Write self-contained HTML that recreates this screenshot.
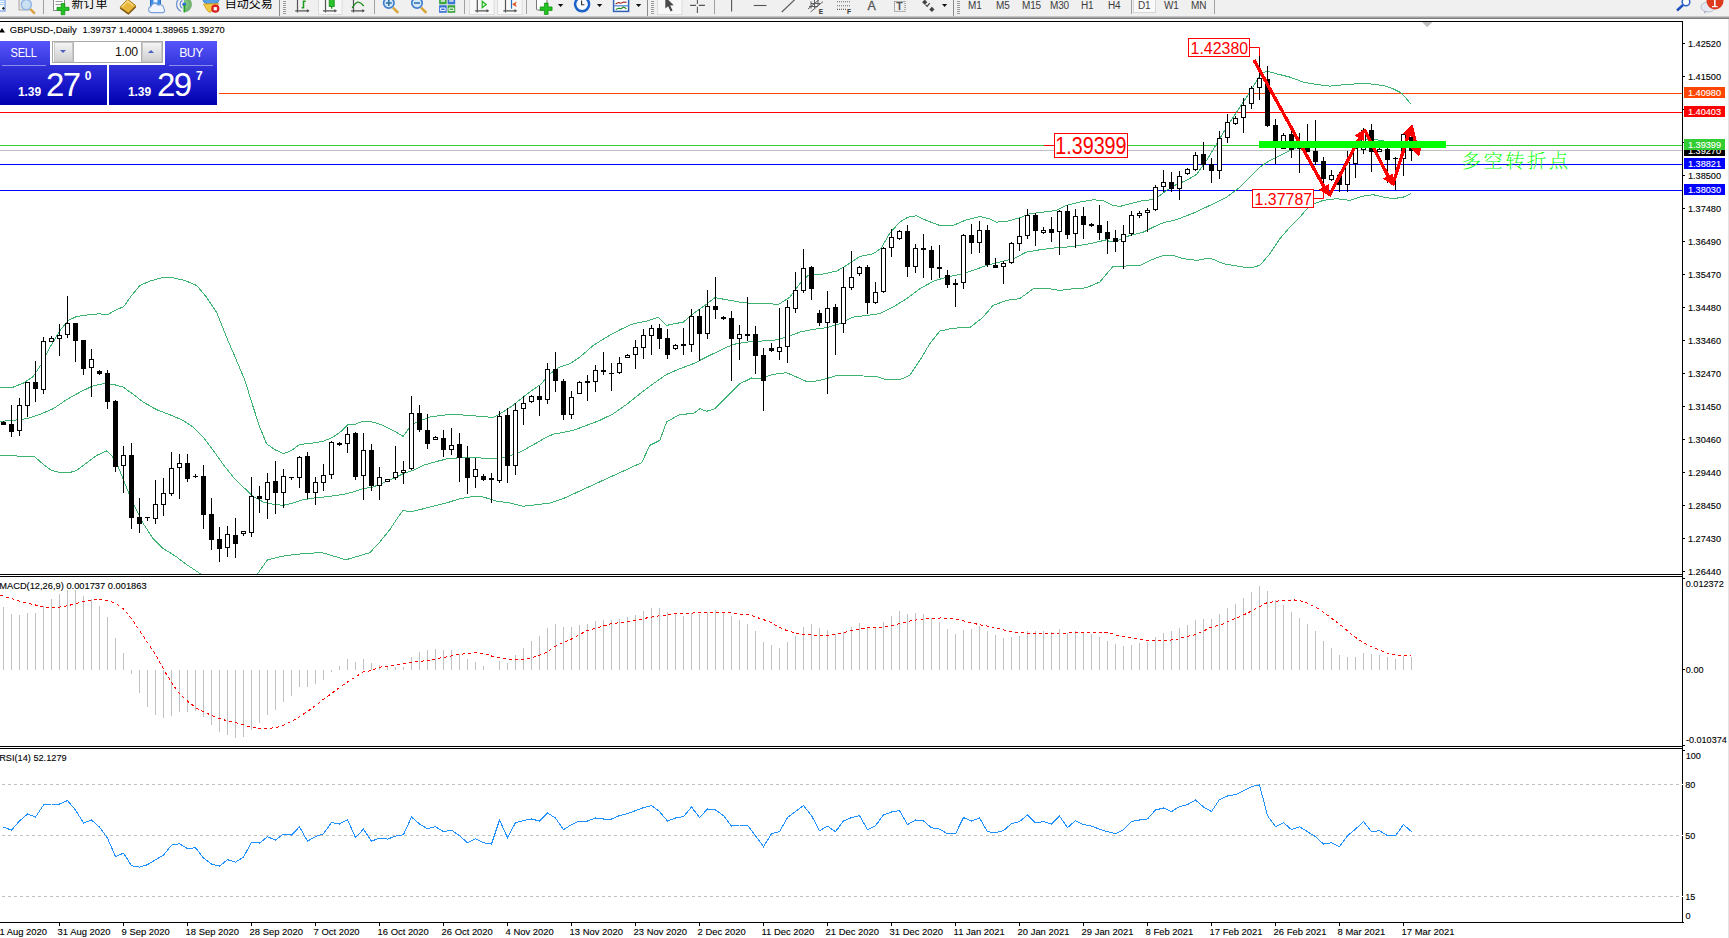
<!DOCTYPE html>
<html lang="zh"><head><meta charset="utf-8"><title>GBPUSD-,Daily</title>
<style>
html,body{margin:0;padding:0;background:#fff;}
body{width:1729px;height:938px;overflow:hidden;position:relative;font-family:"Liberation Sans", "Noto Sans CJK SC", sans-serif;}
#tb{position:absolute;left:0;top:0;width:1729px;height:16px;background:#f0f0f0;overflow:hidden;}
#tbline{position:absolute;left:0;top:16px;width:1729px;height:3px;background:linear-gradient(#d9d9d9,#a6a6a6 45%,#6e6e6e);}
.tf{position:absolute;top:0px;font-size:10px;line-height:12px;color:#3c3c3c;letter-spacing:-0.2px;}
.cn{position:absolute;top:-3px;font-size:12px;line-height:14px;color:#000;white-space:nowrap;}
.sep{position:absolute;top:0;width:1px;height:14px;background:#a0a0a0;}
.grip{position:absolute;top:1px;width:3px;height:13px;background:repeating-linear-gradient(#9a9a9a 0 1px,#f0f0f0 1px 2px);}
.pressed{position:absolute;top:-2px;height:15px;background:#fafafa;border:1px solid #d6d6d6;box-sizing:border-box;}
svg{position:absolute;left:0;top:0;}
svg text{font-family:"Liberation Sans", "Noto Sans CJK SC", sans-serif;}
.ax{font-size:9.9px;fill:#000;stroke:#000;stroke-width:0.12px;}
.tag{font-size:9.9px;fill:#fff;stroke:#fff;stroke-width:0.12px;}
.dt{font-size:9.9px;fill:#000;white-space:pre;stroke:#000;stroke-width:0.12px;}
#panel{position:absolute;left:0;top:41px;width:217px;height:64px;}
#panel div{position:absolute;box-sizing:border-box;}
.btn{color:#fff;font-size:12.3px;letter-spacing:-0.55px;text-align:center;line-height:24.6px;background:linear-gradient(#5555fa,#3434dc);}
.px{background:linear-gradient(#3232da,#1a1acb 45%,#0000ae);color:#fff;}
.sm{font-weight:bold;font-size:12px;line-height:12px;letter-spacing:-0.1px;}
.big{font-size:33px;line-height:33px;letter-spacing:-1.6px;}
.sup{font-weight:bold;font-size:12px;line-height:12px;}

</style></head><body>
<div id="tb">
<svg width="1729" height="16" viewBox="0 0 1729 16">
<rect x="-2" y="-3" width="7" height="14" fill="#fff" stroke="#5a8fe0"/><path d="M0 0.5h4M0 2.5h4M0 4.5h4" stroke="#9cc0f0" stroke-width=".8"/><rect x="2.3" y="7.3" width="2.2" height="2.2" fill="#223" transform="rotate(45 3.4 8.4)"/>
<rect x="19" y="-4" width="10" height="14" fill="#e4e4e4" stroke="#a8a8a8"/><circle cx="26.4" cy="4.6" r="5" fill="#c9dff5" fill-opacity=".9" stroke="#8fb6e6" stroke-width="1.4"/><line x1="30.3" y1="9" x2="34.8" y2="13.6" stroke="#d9a03a" stroke-width="2.5"/>
<rect x="53.5" y="-4" width="11" height="14.5" fill="#fff" stroke="#8a8a8a"/><path d="M55.5 1.5h7M55.5 4.5h7" stroke="#999"/><path d="M57 7.3h4.2v-3.8h3.6v3.8H69v3.2h-4.2v4.2h-3.6v-4.2H57z" fill="#22c322" stroke="#0c8a0c" stroke-width=".7"/>
<path d="M120.2 7.2 L127.6 -0.8 L135.8 5.8 L128.4 13 Z" fill="#e9b63c" stroke="#a8760f"/><path d="M120.2 8.2 L128.4 14 L135.8 6.8" fill="none" stroke="#7a5208" stroke-width="1.2"/><path d="M122 7 L127.6 1 L133 5.4" fill="none" stroke="#f7dc86" stroke-width="1.3"/>
<rect x="150.5" y="-4" width="10" height="10" fill="#3f8fe6" stroke="#2c6fbd"/><rect x="153.5" y="-2" width="4" height="4.5" fill="#e8f3ff"/>
<path d="M151.4 12.6 a3.1 3.1 0 0 1 -0.4 -6.1 a4 4 0 0 1 7.2 -1.2 a3.6 3.6 0 0 1 5.6 3.4 a2.2 2.2 0 0 1 -0.8 3.9 z" fill="#f2f6fc" stroke="#7a9fd8" stroke-width="1.1"/>
<path d="M184.2 -3.4 a7.8 7.8 0 0 1 0 15.6 z" fill="#4aa04a" fill-opacity=".75"/><path d="M184.2 -0.2 a4.6 4.6 0 0 1 0 9.2 z" fill="#7cc47c"/>
<path d="M181 -2.6 a7.6 7.6 0 0 0 0 13.8" fill="none" stroke="#6c8fd1" stroke-width="1.2"/><path d="M182.4 0.4 a4.4 4.4 0 0 0 0 7.8" fill="none" stroke="#6c8fd1" stroke-width="1.2"/><circle cx="184.2" cy="4.3" r="1.9" fill="#2d6fd0"/><path d="M184.3 5 V12.4" stroke="#22a022" stroke-width="1.6"/>
<ellipse cx="211" cy="0.5" rx="7.8" ry="3.6" fill="#5aa0e6" stroke="#2f7fc0"/><path d="M203.4 4 L218.6 3.6 L214.5 9 L210 12.4 L207.6 11 Z" fill="#f2c844" stroke="#c79a1c" stroke-width=".8"/><circle cx="215.3" cy="8.7" r="4.1" fill="#d62222"/><rect x="213.7" y="7.1" width="3.2" height="3.2" fill="#fff"/>
<path d="M297.5 -1V12.6M295.2 10.8H308.7" stroke="#555" stroke-width="1.2" fill="none"/><path d="M309.5 10.8l-2.6 -1.8v3.6z" fill="#555"/>
<path d="M301.7 7.8h1.8V1.3h2.2" stroke="#1a9a1a" stroke-width="1.5" fill="none"/>
<rect x="318.5" y="-2" width="23.5" height="16.6" fill="#f8f8f8" stroke="#dcdcdc"/>
<path d="M325.5 -1V12.6M322.9 10.8H336.2" stroke="#555" stroke-width="1.2" fill="none"/><path d="M337.0 10.8l-2.6 -1.8v3.6z" fill="#555"/>
<rect x="329.2" y="-3" width="5" height="9.5" fill="#2fc12f" stroke="#0c8a0c" stroke-width=".8"/><path d="M331.7 6.5v2.3" stroke="#0c8a0c" stroke-width="1.2"/>
<path d="M353.5 -1V12.6M351.1 10.8H364.1" stroke="#555" stroke-width="1.2" fill="none"/><path d="M364.9 10.8l-2.6 -1.8v3.6z" fill="#555"/>
<path d="M352.2 7.8 Q356 2 358.5 2.2 T363.7 6" stroke="#1a8a1a" fill="none" stroke-width="1.3"/>
<circle cx="388.8" cy="3" r="5.2" fill="#d5e8fb" stroke="#3f7fcc" stroke-width="1.7"/><line x1="393.0" y1="7.6" x2="398.2" y2="12.8" stroke="#d8a437" stroke-width="2.6"/>
<line x1="385.8" y1="3" x2="391.8" y2="3" stroke="#2a6f9f" stroke-width="1.5"/>
<line x1="388.8" y1="0" x2="388.8" y2="6" stroke="#2a6f9f" stroke-width="1.5"/>
<circle cx="417.0" cy="3" r="5.2" fill="#d5e8fb" stroke="#3f7fcc" stroke-width="1.7"/><line x1="421.2" y1="7.6" x2="426.4" y2="12.8" stroke="#d8a437" stroke-width="2.6"/>
<line x1="414.0" y1="3" x2="420.0" y2="3" stroke="#2a6f9f" stroke-width="1.5"/>
<rect x="439.1" y="-3" width="7.6" height="7.3" fill="#3fa53f"/><rect x="447.6" y="-3" width="7.6" height="7.3" fill="#3a72d8"/><rect x="439.1" y="5.2" width="7.6" height="7.6" fill="#3a72d8"/><rect x="447.6" y="5.2" width="7.6" height="7.6" fill="#3fa53f"/>
<path d="M440.8 1h4.2M449.3 1h4.2" stroke="#e8f4e8" stroke-width="1.6"/><path d="M440.6 8h4.6v2.6h-4.6zM449.1 8h4.6v2.6h-4.6z" fill="none" stroke="#fff" stroke-width="1"/>
<rect x="469.5" y="-2" width="24.5" height="16.6" fill="#f8f8f8" stroke="#dcdcdc"/>
<path d="M477.3 -1V12.6M475.1 10.8H488.3" stroke="#555" stroke-width="1.2" fill="none"/><path d="M489.1 10.8l-2.6 -1.8v3.6z" fill="#555"/>
<path d="M482.2 1.3 L486.2 4.5 L482.2 7.8 Z" fill="#d8ffd8" stroke="#22b422" stroke-width="1.2"/>
<rect x="497.6" y="-2" width="24.5" height="16.6" fill="#f8f8f8" stroke="#dcdcdc"/>
<path d="M505.5 -1V12.6M503.3 10.8H516.3" stroke="#555" stroke-width="1.2" fill="none"/><path d="M517.1 10.8l-2.6 -1.8v3.6z" fill="#555"/>
<path d="M511.5 -1V8.7" stroke="#2a6fc0" stroke-width="1.2"/><path d="M512.6 4.3 L516.2 2.2 L515.2 4.3 L516.2 6.4 Z" fill="#e04a10" stroke="#e04a10" stroke-width=".6"/>
<rect x="536.5" y="-4" width="10.5" height="14" rx="1" fill="#fff" stroke="#777"/><path d="M540.2 6.9h4.2v-3.8h3.7v3.8h4v3.5h-4v4h-3.7v-4h-4.2z" fill="#22c322" stroke="#0c8a0c" stroke-width=".7"/><path d="M557.9 3.9h5.4l-2.7 3.1z" fill="#111"/>
<circle cx="582.1" cy="4.3" r="7" fill="#fbfdff" stroke="#1c62c8" stroke-width="2.5"/><path d="M581.6 0.5v4.2h2.8" stroke="#333" fill="none" stroke-width="1.1"/><path d="M596.9 3.9h5.4l-2.7 3.1z" fill="#111"/>
<rect x="613.6" y="-3" width="15" height="14.4" fill="#fff" stroke="#2f62b5" stroke-width="1.5"/><path d="M613.6 5.8h15" stroke="#4f82d5" stroke-width="1.2"/><path d="M615.5 4 l3 -1.4 2.4 0.6 2.6 -1.2 3 0.4" stroke="#a02020" fill="none" stroke-width="1.1"/><path d="M615.8 9.4 l2.8 -1.2 2.4 0.4 2.6 -1.6 2.8 1.8" stroke="#1f8a1f" fill="none" stroke-width="1.1"/><path d="M635.9 3.9h5.4l-2.7 3.1z" fill="#111"/>
<rect x="657.6" y="-2" width="24.4" height="16.6" fill="#f8f8f8" stroke="#dcdcdc"/><path d="M665.3 -3 L665.3 8.6 L668.1 6.2 L670.6 11.4 L672.6 10.4 L670.2 5.4 L673.8 5.2 Z" fill="#4a4a4a"/>
<path d="M697.4 -1v5M697.4 6.8v6.2M690.1 5.4h6M698.8 5.4h6.1" stroke="#555" stroke-width="1.1" fill="none"/>
<path d="M731.6 -1v12.6" stroke="#555" stroke-width="1.1"/><path d="M753.7 5.5h12.8" stroke="#555" stroke-width="1.1"/><path d="M781.8 12 L795 -0.6" stroke="#555" stroke-width="1.1"/>
<path d="M808 9 L821 -2 M810.5 12 L823 1.6 M811 1.2v7.4M814.5 -1v9M818 -2v8M809 6.5h9M811 3.5h9" stroke="#555" fill="none" stroke-width=".9"/><text x="818.8" y="13.7" font-size="6.6" font-weight="bold" fill="#333">E</text>
<path d="M837 1.7h13M837 5.8h13M837 9.4h9" stroke="#666" stroke-width="1.1" stroke-dasharray="1,1" fill="none"/><text x="846.9" y="13.7" font-size="6.6" font-weight="bold" fill="#333">F</text>
<text x="867.4" y="10.1" font-size="12.4" fill="#555" stroke="#555" stroke-width=".3">A</text>
<rect x="894.5" y="1.6" width="10.6" height="9.8" fill="none" stroke="#666" stroke-width="1" stroke-dasharray="1,1"/><text x="896.3" y="10.2" font-size="10.5" font-weight="bold" fill="#555">T</text>
<path d="M924.7 -0.4l2.6 2.6-2.6 2.6-2.6-2.6z M931.9 6.8l2.6 2.6-2.6 2.6-2.6-2.6z" fill="#444"/><path d="M925.5 4.6l1.6 1.8 2.6-3.2" fill="none" stroke="#444" stroke-width="1.2"/><path d="M942 4h5.2l-2.6 3z" fill="#111"/>
<circle cx="1686" cy="2" r="3.8" fill="#fff" stroke="#2f62c8" stroke-width="1.5"/><line x1="1683" y1="5" x2="1677" y2="10.5" stroke="#2050c0" stroke-width="2.4"/>
<ellipse cx="1708" cy="7" rx="7" ry="5" fill="#e4e8f2" stroke="#b9bdc8"/><path d="M1704 11 l0 3 3 -3z" fill="#b0b4c0"/><circle cx="1715" cy="1" r="8.5" fill="#dd3a1e"/><rect x="1714" y="-4" width="1.6" height="11" fill="#fff"/><rect x="1712" y="6" width="5.6" height="1.2" fill="#fff"/>
</svg>
<div class="sep" style="left:43px"></div>
<div class="sep" style="left:374px"></div>
<div class="sep" style="left:464px"></div>
<div class="sep" style="left:526px"></div>
<div class="sep" style="left:714px"></div>
<div class="sep" style="left:1131px"></div>
<div class="sep" style="left:1214px"></div>
<div class="sep" style="left:279px;height:16px;background:#8c8c8c"></div>
<div class="sep" style="left:647px;height:16px;background:#8c8c8c"></div>
<div class="sep" style="left:953px;height:16px;background:#8c8c8c"></div>
<div class="grip" style="left:283px"></div>
<div class="grip" style="left:651px"></div>
<div class="grip" style="left:957px"></div>
<div class="pressed" style="left:1133px;width:23px"></div>
<div class="cn" style="left:71.5px">新订单</div>
<div class="cn" style="left:224.8px">自动交易</div>
<div class="tf" style="left:968px">M1</div>
<div class="tf" style="left:996px">M5</div>
<div class="tf" style="left:1022px">M15</div>
<div class="tf" style="left:1050px">M30</div>
<div class="tf" style="left:1081px">H1</div>
<div class="tf" style="left:1108px">H4</div>
<div class="tf" style="left:1138px">D1</div>
<div class="tf" style="left:1164px">W1</div>
<div class="tf" style="left:1191px">MN</div>
</div><div id="tbline"></div>
<svg width="1729" height="938" viewBox="0 0 1729 938">
<rect x="1728" y="19" width="1" height="919" fill="#e3e3e3"/>
<rect x="0" y="150" width="1682" height="1" fill="#c0c0c0"/>
<rect x="0" y="93" width="1682" height="1" fill="#ff4500"/>
<rect x="0" y="112" width="1682" height="1" fill="#ff0000"/>
<rect x="0" y="145" width="1682" height="1" fill="#32cd32"/>
<rect x="0" y="164" width="1682" height="1" fill="#0000ff"/>
<rect x="0" y="190" width="1682" height="1" fill="#0000ff"/>
<clipPath id="cm"><rect x="0" y="22" width="1682" height="552"/></clipPath>
<g clip-path="url(#cm)">
<polyline fill="none" stroke="#3cb371" stroke-width="1" shape-rendering="crispEdges"  points="0.0,387.7 13.3,387.1 23.3,383.1 33.3,376.4 41.6,363.8 50.0,347.1 60.0,330.4 68.3,320.5 76.6,316.5 89.9,314.5 99.9,313.8 107.3,314.8 114.9,310.5 123.9,306.5 131.6,295.5 139.9,285.5 149.9,281.1 161.6,277.8 173.2,277.8 184.9,280.5 196.6,285.5 206.5,297.1 216.5,312.1 226.5,337.1 236.5,360.4 244.9,380.4 253.2,407.1 259.8,427.1 266.5,443.7 274.8,449.7 283.8,453.7 291.5,450.4 299.8,444.4 313.2,443.0 323.1,441.4 333.1,437.1 341.5,431.1 348.1,424.4 354.8,424.4 363.1,421.1 373.1,422.1 383.1,425.4 393.1,430.4 403.1,436.4 409.8,427.1 416.4,422.1 429.8,417.1 443.1,415.1 456.4,414.4 469.7,415.7 483.1,416.4 493.0,417.7 503.0,412.1 513.0,405.4 523.0,397.1 533.0,389.7 541.4,383.8 549.7,373.8 559.7,367.1 570.0,363.7 580.0,357.0 593.3,345.4 606.6,337.1 620.0,329.7 633.3,323.7 646.6,321.1 658.3,317.1 666.6,325.4 674.9,323.7 683.3,322.1 693.3,313.7 704.9,305.4 714.9,297.7 726.6,299.7 739.9,302.1 753.2,303.7 766.5,303.1 778.2,304.7 789.9,297.1 799.9,283.8 808.2,275.4 821.5,274.4 836.5,271.1 846.5,265.4 859.8,256.4 873.2,253.8 881.5,247.8 889.8,233.1 899.8,222.1 908.1,217.1 916.5,215.8 926.5,220.5 939.8,225.5 953.1,225.5 966.4,219.8 979.8,216.5 989.8,218.8 996.4,222.1 1006.4,221.5 1019.7,217.8 1029.7,213.8 1043.1,212.1 1056.4,210.5 1066.4,205.5 1079.7,202.1 1093.0,199.8 1103.0,200.5 1113.0,205.5 1120.0,206.4 1130.0,203.7 1143.3,200.4 1153.3,199.7 1160.0,195.4 1166.6,190.4 1176.6,184.4 1186.6,180.4 1196.6,174.4 1206.6,160.4 1216.6,143.8 1226.6,127.1 1236.6,112.1 1246.6,97.1 1254.9,83.8 1261.6,73.8 1266.6,71.1 1276.6,73.8 1289.9,77.1 1303.2,82.1 1316.5,84.5 1329.9,86.1 1343.2,84.8 1356.5,83.8 1369.8,83.8 1383.2,85.5 1393.2,88.8 1401.5,93.1 1406.5,98.8 1410.8,103.8"/>
<polyline fill="none" stroke="#3cb371" stroke-width="1" shape-rendering="crispEdges"  points="0.0,421.4 13.3,420.4 26.7,418.7 40.0,414.4 53.3,408.7 66.6,399.7 80.0,392.1 93.3,385.7 103.3,383.8 113.3,384.4 123.3,387.1 133.3,394.4 143.3,402.1 156.6,409.7 169.9,414.7 183.2,420.4 193.2,427.1 203.2,437.1 213.2,450.4 223.2,464.4 233.2,477.0 243.2,487.0 253.2,496.4 263.2,502.0 273.2,504.3 283.2,505.3 293.2,503.0 303.2,499.7 316.5,497.7 329.8,496.4 343.1,494.4 353.1,492.0 363.1,488.7 373.1,487.0 383.1,483.0 393.1,478.7 403.1,473.7 413.1,470.4 423.1,465.4 433.1,462.4 446.4,459.0 459.7,457.7 473.1,457.0 486.4,458.7 496.4,458.7 506.4,457.0 516.4,453.7 526.4,448.7 536.4,443.0 546.4,437.1 556.3,433.1 560.0,433.0 573.3,430.3 586.7,425.3 600.0,420.3 613.3,413.7 626.6,404.4 640.0,393.7 653.3,383.7 666.6,374.4 679.9,368.7 693.3,363.7 706.6,357.0 719.9,350.4 733.2,344.4 746.6,342.1 759.9,341.1 773.2,340.4 786.5,337.1 799.9,332.1 813.2,329.4 826.5,327.7 839.8,323.7 853.2,317.1 866.5,315.4 879.8,313.7 893.1,307.1 906.5,298.7 919.8,288.8 933.1,281.4 946.4,277.1 959.8,274.4 973.1,270.4 986.4,265.4 999.7,262.1 1013.1,258.8 1026.4,252.1 1039.7,249.8 1053.0,248.1 1066.4,247.1 1079.7,245.4 1093.0,243.1 1106.4,239.8 1110.0,242.0 1120.0,239.7 1130.0,235.4 1143.3,232.1 1153.3,227.1 1163.3,222.7 1176.6,219.7 1193.3,213.1 1209.9,205.4 1226.6,197.1 1239.9,187.1 1249.9,177.1 1259.9,167.1 1269.9,160.4 1279.9,155.4 1289.9,150.4 1299.9,146.1 1309.9,143.8 1323.2,143.1 1343.2,142.4 1354.9,142.0 1364.9,140.0 1373.8,139.3 1383.8,141.0 1394.8,142.0 1410.8,142.4"/>
<polyline fill="none" stroke="#3cb371" stroke-width="1" shape-rendering="crispEdges"  points="0.0,455.4 16.7,456.0 35.0,457.0 43.3,464.4 51.6,470.4 60.0,472.4 68.3,473.0 76.6,470.4 86.6,463.0 96.6,455.4 106.6,451.0 111.6,455.4 118.3,467.0 124.9,483.7 133.3,503.7 143.3,523.7 153.2,538.7 163.2,548.7 169.9,552.7 176.4,556.8 188.4,565.8 201.4,574.4 212.4,580.9 228.5,585.9 244.5,580.9 257.1,574.4 267.5,559.8 284.6,555.8 306.6,553.2 322.6,552.8 345.9,559.8 369.8,552.7 379.8,542.0 389.8,529.7 398.1,517.0 403.1,510.3 409.8,512.0 419.8,509.7 433.1,506.3 446.4,503.0 459.7,498.7 473.1,496.4 483.1,497.0 496.4,501.0 509.7,503.0 523.0,506.3 536.4,504.7 549.7,503.0 563.0,498.7 641.6,462.7 649.9,445.3 659.9,440.3 666.6,422.0 679.9,414.3 693.3,413.7 699.9,408.7 706.6,411.3 714.9,408.7 726.6,397.0 739.9,383.7 751.6,378.0 759.9,378.7 773.2,374.4 786.5,372.7 796.5,377.0 806.5,381.4 816.5,381.0 826.5,378.7 836.5,375.4 849.8,375.4 863.2,376.0 876.5,376.4 886.5,379.7 899.8,379.7 909.8,375.4 919.8,360.4 929.8,343.7 939.8,331.1 953.1,328.1 969.8,327.7 983.1,317.1 993.1,305.4 1006.4,300.4 1019.7,298.7 1033.1,288.8 1049.7,288.8 1059.7,290.4 1073.0,288.8 1086.4,287.8 1099.7,282.1 1113.0,266.4 1116.7,266.4 1140.0,265.4 1150.0,260.4 1163.3,255.4 1173.3,255.4 1183.3,258.7 1196.6,260.4 1209.9,258.0 1223.3,263.7 1236.6,266.0 1249.9,268.0 1259.9,265.4 1269.9,253.7 1279.9,238.7 1289.9,227.1 1299.9,217.1 1309.9,205.4 1323.2,200.4 1336.5,198.7 1349.9,200.4 1363.2,196.1 1373.2,194.7 1383.2,197.1 1393.2,198.7 1403.2,197.1 1410.8,193.7"/>
</g>
<g shape-rendering="crispEdges">
<rect x="3" y="421" width="1" height="4" fill="#000"/>
<rect x="1" y="422" width="5" height="3" fill="#000"/>
<rect x="11" y="405" width="1" height="32" fill="#000"/>
<rect x="9" y="424" width="5" height="8" fill="#000"/>
<rect x="19" y="398" width="1" height="38" fill="#000"/>
<rect x="17" y="405" width="5" height="26" fill="#000"/><rect x="18" y="406" width="3" height="24" fill="#fff"/>
<rect x="27" y="382" width="1" height="35" fill="#000"/>
<rect x="25" y="382" width="5" height="24" fill="#000"/><rect x="26" y="383" width="3" height="22" fill="#fff"/>
<rect x="35" y="361" width="1" height="41" fill="#000"/>
<rect x="33" y="382" width="5" height="7" fill="#000"/>
<rect x="43" y="337" width="1" height="57" fill="#000"/>
<rect x="41" y="341" width="5" height="49" fill="#000"/><rect x="42" y="342" width="3" height="47" fill="#fff"/>
<rect x="51" y="336" width="1" height="6" fill="#000"/>
<rect x="49" y="338" width="5" height="4" fill="#000"/><rect x="50" y="339" width="3" height="2" fill="#fff"/>
<rect x="59" y="324" width="1" height="32" fill="#000"/>
<rect x="57" y="335" width="5" height="4" fill="#000"/><rect x="58" y="336" width="3" height="2" fill="#fff"/>
<rect x="67" y="296" width="1" height="42" fill="#000"/>
<rect x="65" y="323" width="5" height="12" fill="#000"/><rect x="66" y="324" width="3" height="10" fill="#fff"/>
<rect x="75" y="323" width="1" height="39" fill="#000"/>
<rect x="73" y="323" width="5" height="18" fill="#000"/>
<rect x="83" y="340" width="1" height="35" fill="#000"/>
<rect x="81" y="340" width="5" height="29" fill="#000"/>
<rect x="91" y="349" width="1" height="48" fill="#000"/>
<rect x="89" y="359" width="5" height="9" fill="#000"/><rect x="90" y="360" width="3" height="7" fill="#fff"/>
<rect x="99" y="370" width="1" height="5" fill="#000"/>
<rect x="97" y="371" width="5" height="3" fill="#000"/>
<rect x="107" y="370" width="1" height="39" fill="#000"/>
<rect x="105" y="373" width="5" height="29" fill="#000"/>
<rect x="115" y="400" width="1" height="72" fill="#000"/>
<rect x="113" y="401" width="5" height="66" fill="#000"/>
<rect x="123" y="446" width="1" height="47" fill="#000"/>
<rect x="121" y="455" width="5" height="11" fill="#000"/><rect x="122" y="456" width="3" height="9" fill="#fff"/>
<rect x="131" y="443" width="1" height="86" fill="#000"/>
<rect x="129" y="455" width="5" height="63" fill="#000"/>
<rect x="139" y="498" width="1" height="35" fill="#000"/>
<rect x="137" y="517" width="5" height="7" fill="#000"/>
<rect x="147" y="517" width="1" height="4" fill="#000"/>
<rect x="145" y="517" width="5" height="1" fill="#000"/>
<rect x="155" y="480" width="1" height="44" fill="#000"/>
<rect x="153" y="504" width="5" height="15" fill="#000"/><rect x="154" y="505" width="3" height="13" fill="#fff"/>
<rect x="163" y="478" width="1" height="38" fill="#000"/>
<rect x="161" y="493" width="5" height="12" fill="#000"/><rect x="162" y="494" width="3" height="10" fill="#fff"/>
<rect x="171" y="452" width="1" height="44" fill="#000"/>
<rect x="169" y="468" width="5" height="26" fill="#000"/><rect x="170" y="469" width="3" height="24" fill="#fff"/>
<rect x="179" y="454" width="1" height="45" fill="#000"/>
<rect x="177" y="463" width="5" height="5" fill="#000"/><rect x="178" y="464" width="3" height="3" fill="#fff"/>
<rect x="187" y="454" width="1" height="28" fill="#000"/>
<rect x="185" y="463" width="5" height="16" fill="#000"/>
<rect x="195" y="474" width="1" height="4" fill="#000"/>
<rect x="193" y="476" width="5" height="1" fill="#000"/>
<rect x="203" y="465" width="1" height="64" fill="#000"/>
<rect x="201" y="476" width="5" height="39" fill="#000"/>
<rect x="211" y="498" width="1" height="52" fill="#000"/>
<rect x="209" y="514" width="5" height="26" fill="#000"/>
<rect x="219" y="527" width="1" height="35" fill="#000"/>
<rect x="217" y="539" width="5" height="10" fill="#000"/>
<rect x="227" y="526" width="1" height="31" fill="#000"/>
<rect x="225" y="534" width="5" height="14" fill="#000"/><rect x="226" y="535" width="3" height="12" fill="#fff"/>
<rect x="235" y="518" width="1" height="40" fill="#000"/>
<rect x="233" y="535" width="5" height="9" fill="#000"/>
<rect x="243" y="531" width="1" height="5" fill="#000"/>
<rect x="241" y="531" width="5" height="3" fill="#000"/><rect x="242" y="532" width="3" height="1" fill="#fff"/>
<rect x="251" y="477" width="1" height="60" fill="#000"/>
<rect x="249" y="496" width="5" height="37" fill="#000"/><rect x="250" y="497" width="3" height="35" fill="#fff"/>
<rect x="259" y="486" width="1" height="27" fill="#000"/>
<rect x="257" y="496" width="5" height="3" fill="#000"/>
<rect x="267" y="473" width="1" height="46" fill="#000"/>
<rect x="265" y="482" width="5" height="18" fill="#000"/><rect x="266" y="483" width="3" height="16" fill="#fff"/>
<rect x="275" y="461" width="1" height="53" fill="#000"/>
<rect x="273" y="481" width="5" height="12" fill="#000"/>
<rect x="283" y="469" width="1" height="39" fill="#000"/>
<rect x="281" y="476" width="5" height="17" fill="#000"/><rect x="282" y="477" width="3" height="15" fill="#fff"/>
<rect x="291" y="477" width="1" height="3" fill="#000"/>
<rect x="289" y="477" width="5" height="1" fill="#000"/>
<rect x="299" y="456" width="1" height="32" fill="#000"/>
<rect x="297" y="457" width="5" height="21" fill="#000"/><rect x="298" y="458" width="3" height="19" fill="#fff"/>
<rect x="307" y="452" width="1" height="47" fill="#000"/>
<rect x="305" y="456" width="5" height="37" fill="#000"/>
<rect x="315" y="477" width="1" height="28" fill="#000"/>
<rect x="313" y="482" width="5" height="11" fill="#000"/><rect x="314" y="483" width="3" height="9" fill="#fff"/>
<rect x="323" y="464" width="1" height="27" fill="#000"/>
<rect x="321" y="475" width="5" height="8" fill="#000"/><rect x="322" y="476" width="3" height="6" fill="#fff"/>
<rect x="331" y="441" width="1" height="38" fill="#000"/>
<rect x="329" y="442" width="5" height="33" fill="#000"/><rect x="330" y="443" width="3" height="31" fill="#fff"/>
<rect x="339" y="442" width="1" height="4" fill="#000"/>
<rect x="337" y="443" width="5" height="2" fill="#000"/>
<rect x="347" y="427" width="1" height="26" fill="#000"/>
<rect x="345" y="434" width="5" height="10" fill="#000"/><rect x="346" y="435" width="3" height="8" fill="#fff"/>
<rect x="355" y="432" width="1" height="48" fill="#000"/>
<rect x="353" y="433" width="5" height="44" fill="#000"/>
<rect x="363" y="433" width="1" height="67" fill="#000"/>
<rect x="361" y="450" width="5" height="26" fill="#000"/><rect x="362" y="451" width="3" height="24" fill="#fff"/>
<rect x="371" y="444" width="1" height="47" fill="#000"/>
<rect x="369" y="450" width="5" height="36" fill="#000"/>
<rect x="379" y="467" width="1" height="33" fill="#000"/>
<rect x="377" y="477" width="5" height="9" fill="#000"/><rect x="378" y="478" width="3" height="7" fill="#fff"/>
<rect x="387" y="479" width="1" height="2" fill="#000"/>
<rect x="385" y="479" width="5" height="3" fill="#000"/><rect x="386" y="480" width="3" height="1" fill="#fff"/>
<rect x="395" y="446" width="1" height="34" fill="#000"/>
<rect x="393" y="472" width="5" height="6" fill="#000"/><rect x="394" y="473" width="3" height="4" fill="#fff"/>
<rect x="403" y="461" width="1" height="23" fill="#000"/>
<rect x="401" y="470" width="5" height="3" fill="#000"/><rect x="402" y="471" width="3" height="1" fill="#fff"/>
<rect x="411" y="396" width="1" height="74" fill="#000"/>
<rect x="409" y="413" width="5" height="56" fill="#000"/><rect x="410" y="414" width="3" height="54" fill="#fff"/>
<rect x="419" y="405" width="1" height="27" fill="#000"/>
<rect x="417" y="413" width="5" height="17" fill="#000"/>
<rect x="427" y="414" width="1" height="35" fill="#000"/>
<rect x="425" y="430" width="5" height="14" fill="#000"/>
<rect x="435" y="436" width="1" height="4" fill="#000"/>
<rect x="433" y="437" width="5" height="3" fill="#000"/><rect x="434" y="438" width="3" height="1" fill="#fff"/>
<rect x="443" y="430" width="1" height="27" fill="#000"/>
<rect x="441" y="438" width="5" height="12" fill="#000"/>
<rect x="451" y="428" width="1" height="27" fill="#000"/>
<rect x="449" y="445" width="5" height="5" fill="#000"/><rect x="450" y="446" width="3" height="3" fill="#fff"/>
<rect x="459" y="433" width="1" height="49" fill="#000"/>
<rect x="457" y="444" width="5" height="14" fill="#000"/>
<rect x="467" y="446" width="1" height="48" fill="#000"/>
<rect x="465" y="458" width="5" height="20" fill="#000"/>
<rect x="475" y="458" width="1" height="30" fill="#000"/>
<rect x="473" y="469" width="5" height="8" fill="#000"/><rect x="474" y="470" width="3" height="6" fill="#fff"/>
<rect x="483" y="474" width="1" height="7" fill="#000"/>
<rect x="481" y="476" width="5" height="4" fill="#000"/>
<rect x="491" y="473" width="1" height="30" fill="#000"/>
<rect x="489" y="478" width="5" height="2" fill="#000"/>
<rect x="499" y="411" width="1" height="72" fill="#000"/>
<rect x="497" y="416" width="5" height="65" fill="#000"/><rect x="498" y="417" width="3" height="63" fill="#fff"/>
<rect x="507" y="408" width="1" height="75" fill="#000"/>
<rect x="505" y="415" width="5" height="51" fill="#000"/>
<rect x="515" y="403" width="1" height="72" fill="#000"/>
<rect x="513" y="410" width="5" height="56" fill="#000"/><rect x="514" y="411" width="3" height="54" fill="#fff"/>
<rect x="523" y="396" width="1" height="29" fill="#000"/>
<rect x="521" y="403" width="5" height="6" fill="#000"/><rect x="522" y="404" width="3" height="4" fill="#fff"/>
<rect x="531" y="395" width="1" height="8" fill="#000"/>
<rect x="529" y="396" width="5" height="6" fill="#000"/><rect x="530" y="397" width="3" height="4" fill="#fff"/>
<rect x="539" y="386" width="1" height="30" fill="#000"/>
<rect x="537" y="396" width="5" height="4" fill="#000"/>
<rect x="547" y="363" width="1" height="41" fill="#000"/>
<rect x="545" y="369" width="5" height="31" fill="#000"/><rect x="546" y="370" width="3" height="29" fill="#fff"/>
<rect x="555" y="352" width="1" height="40" fill="#000"/>
<rect x="553" y="369" width="5" height="12" fill="#000"/>
<rect x="563" y="379" width="1" height="41" fill="#000"/>
<rect x="561" y="381" width="5" height="34" fill="#000"/>
<rect x="571" y="391" width="1" height="28" fill="#000"/>
<rect x="569" y="397" width="5" height="18" fill="#000"/><rect x="570" y="398" width="3" height="16" fill="#fff"/>
<rect x="579" y="381" width="1" height="13" fill="#000"/>
<rect x="577" y="382" width="5" height="12" fill="#000"/><rect x="578" y="383" width="3" height="10" fill="#fff"/>
<rect x="587" y="375" width="1" height="26" fill="#000"/>
<rect x="585" y="381" width="5" height="2" fill="#000"/>
<rect x="595" y="365" width="1" height="27" fill="#000"/>
<rect x="593" y="370" width="5" height="12" fill="#000"/><rect x="594" y="371" width="3" height="10" fill="#fff"/>
<rect x="603" y="352" width="1" height="23" fill="#000"/>
<rect x="601" y="370" width="5" height="2" fill="#000"/>
<rect x="611" y="363" width="1" height="28" fill="#000"/>
<rect x="609" y="373" width="5" height="1" fill="#000"/>
<rect x="619" y="357" width="1" height="17" fill="#000"/>
<rect x="617" y="363" width="5" height="10" fill="#000"/><rect x="618" y="364" width="3" height="8" fill="#fff"/>
<rect x="627" y="354" width="1" height="3" fill="#000"/>
<rect x="625" y="355" width="5" height="3" fill="#000"/><rect x="626" y="356" width="3" height="1" fill="#fff"/>
<rect x="635" y="340" width="1" height="29" fill="#000"/>
<rect x="633" y="347" width="5" height="8" fill="#000"/><rect x="634" y="348" width="3" height="6" fill="#fff"/>
<rect x="643" y="329" width="1" height="30" fill="#000"/>
<rect x="641" y="335" width="5" height="13" fill="#000"/><rect x="642" y="336" width="3" height="11" fill="#fff"/>
<rect x="651" y="325" width="1" height="30" fill="#000"/>
<rect x="649" y="328" width="5" height="8" fill="#000"/><rect x="650" y="329" width="3" height="6" fill="#fff"/>
<rect x="659" y="324" width="1" height="25" fill="#000"/>
<rect x="657" y="328" width="5" height="11" fill="#000"/>
<rect x="667" y="329" width="1" height="30" fill="#000"/>
<rect x="665" y="338" width="5" height="17" fill="#000"/>
<rect x="675" y="344" width="1" height="6" fill="#000"/>
<rect x="673" y="345" width="5" height="4" fill="#000"/><rect x="674" y="346" width="3" height="2" fill="#fff"/>
<rect x="683" y="328" width="1" height="27" fill="#000"/>
<rect x="681" y="344" width="5" height="2" fill="#000"/>
<rect x="691" y="309" width="1" height="43" fill="#000"/>
<rect x="689" y="316" width="5" height="29" fill="#000"/><rect x="690" y="317" width="3" height="27" fill="#fff"/>
<rect x="699" y="309" width="1" height="52" fill="#000"/>
<rect x="697" y="316" width="5" height="18" fill="#000"/>
<rect x="707" y="290" width="1" height="49" fill="#000"/>
<rect x="705" y="306" width="5" height="28" fill="#000"/><rect x="706" y="307" width="3" height="26" fill="#fff"/>
<rect x="715" y="277" width="1" height="42" fill="#000"/>
<rect x="713" y="306" width="5" height="4" fill="#000"/>
<rect x="723" y="316" width="1" height="4" fill="#000"/>
<rect x="721" y="317" width="5" height="2" fill="#000"/>
<rect x="731" y="311" width="1" height="70" fill="#000"/>
<rect x="729" y="318" width="5" height="21" fill="#000"/>
<rect x="739" y="325" width="1" height="35" fill="#000"/>
<rect x="737" y="334" width="5" height="5" fill="#000"/><rect x="738" y="335" width="3" height="3" fill="#fff"/>
<rect x="747" y="297" width="1" height="44" fill="#000"/>
<rect x="745" y="334" width="5" height="2" fill="#000"/>
<rect x="755" y="326" width="1" height="48" fill="#000"/>
<rect x="753" y="334" width="5" height="22" fill="#000"/>
<rect x="763" y="348" width="1" height="63" fill="#000"/>
<rect x="761" y="355" width="5" height="26" fill="#000"/>
<rect x="771" y="343" width="1" height="9" fill="#000"/>
<rect x="769" y="348" width="5" height="3" fill="#000"/>
<rect x="779" y="308" width="1" height="52" fill="#000"/>
<rect x="777" y="347" width="5" height="5" fill="#000"/><rect x="778" y="348" width="3" height="3" fill="#fff"/>
<rect x="787" y="300" width="1" height="63" fill="#000"/>
<rect x="785" y="307" width="5" height="40" fill="#000"/><rect x="786" y="308" width="3" height="38" fill="#fff"/>
<rect x="795" y="272" width="1" height="41" fill="#000"/>
<rect x="793" y="290" width="5" height="19" fill="#000"/><rect x="794" y="291" width="3" height="17" fill="#fff"/>
<rect x="803" y="249" width="1" height="44" fill="#000"/>
<rect x="801" y="268" width="5" height="23" fill="#000"/><rect x="802" y="269" width="3" height="21" fill="#fff"/>
<rect x="811" y="266" width="1" height="34" fill="#000"/>
<rect x="809" y="267" width="5" height="22" fill="#000"/>
<rect x="819" y="310" width="1" height="16" fill="#000"/>
<rect x="817" y="313" width="5" height="10" fill="#000"/>
<rect x="827" y="291" width="1" height="103" fill="#000"/>
<rect x="825" y="308" width="5" height="15" fill="#000"/><rect x="826" y="309" width="3" height="13" fill="#fff"/>
<rect x="835" y="304" width="1" height="51" fill="#000"/>
<rect x="833" y="307" width="5" height="16" fill="#000"/>
<rect x="843" y="267" width="1" height="66" fill="#000"/>
<rect x="841" y="287" width="5" height="37" fill="#000"/><rect x="842" y="288" width="3" height="35" fill="#fff"/>
<rect x="851" y="251" width="1" height="39" fill="#000"/>
<rect x="849" y="277" width="5" height="11" fill="#000"/><rect x="850" y="278" width="3" height="9" fill="#fff"/>
<rect x="859" y="266" width="1" height="10" fill="#000"/>
<rect x="857" y="267" width="5" height="7" fill="#000"/><rect x="858" y="268" width="3" height="5" fill="#fff"/>
<rect x="867" y="265" width="1" height="49" fill="#000"/>
<rect x="865" y="267" width="5" height="36" fill="#000"/>
<rect x="875" y="282" width="1" height="22" fill="#000"/>
<rect x="873" y="292" width="5" height="11" fill="#000"/><rect x="874" y="293" width="3" height="9" fill="#fff"/>
<rect x="883" y="247" width="1" height="46" fill="#000"/>
<rect x="881" y="248" width="5" height="44" fill="#000"/><rect x="882" y="249" width="3" height="42" fill="#fff"/>
<rect x="891" y="229" width="1" height="28" fill="#000"/>
<rect x="889" y="237" width="5" height="11" fill="#000"/><rect x="890" y="238" width="3" height="9" fill="#fff"/>
<rect x="899" y="230" width="1" height="10" fill="#000"/>
<rect x="897" y="231" width="5" height="8" fill="#000"/><rect x="898" y="232" width="3" height="6" fill="#fff"/>
<rect x="907" y="225" width="1" height="52" fill="#000"/>
<rect x="905" y="231" width="5" height="36" fill="#000"/>
<rect x="915" y="244" width="1" height="29" fill="#000"/>
<rect x="913" y="248" width="5" height="19" fill="#000"/><rect x="914" y="249" width="3" height="17" fill="#fff"/>
<rect x="923" y="234" width="1" height="44" fill="#000"/>
<rect x="921" y="248" width="5" height="2" fill="#000"/>
<rect x="931" y="246" width="1" height="34" fill="#000"/>
<rect x="929" y="250" width="5" height="18" fill="#000"/>
<rect x="939" y="245" width="1" height="33" fill="#000"/>
<rect x="937" y="267" width="5" height="2" fill="#000"/>
<rect x="947" y="270" width="1" height="18" fill="#000"/>
<rect x="945" y="275" width="5" height="10" fill="#000"/>
<rect x="955" y="279" width="1" height="28" fill="#000"/>
<rect x="953" y="283" width="5" height="2" fill="#000"/>
<rect x="963" y="234" width="1" height="55" fill="#000"/>
<rect x="961" y="235" width="5" height="48" fill="#000"/><rect x="962" y="236" width="3" height="46" fill="#fff"/>
<rect x="971" y="224" width="1" height="30" fill="#000"/>
<rect x="969" y="235" width="5" height="8" fill="#000"/>
<rect x="979" y="221" width="1" height="32" fill="#000"/>
<rect x="977" y="230" width="5" height="13" fill="#000"/><rect x="978" y="231" width="3" height="11" fill="#fff"/>
<rect x="987" y="225" width="1" height="42" fill="#000"/>
<rect x="985" y="230" width="5" height="35" fill="#000"/>
<rect x="995" y="258" width="1" height="10" fill="#000"/>
<rect x="993" y="265" width="5" height="3" fill="#000"/>
<rect x="1003" y="261" width="1" height="23" fill="#000"/>
<rect x="1001" y="263" width="5" height="4" fill="#000"/><rect x="1002" y="264" width="3" height="2" fill="#fff"/>
<rect x="1011" y="242" width="1" height="22" fill="#000"/>
<rect x="1009" y="243" width="5" height="20" fill="#000"/><rect x="1010" y="244" width="3" height="18" fill="#fff"/>
<rect x="1019" y="218" width="1" height="33" fill="#000"/>
<rect x="1017" y="236" width="5" height="8" fill="#000"/><rect x="1018" y="237" width="3" height="6" fill="#fff"/>
<rect x="1027" y="209" width="1" height="30" fill="#000"/>
<rect x="1025" y="215" width="5" height="21" fill="#000"/><rect x="1026" y="216" width="3" height="19" fill="#fff"/>
<rect x="1035" y="213" width="1" height="33" fill="#000"/>
<rect x="1033" y="215" width="5" height="16" fill="#000"/>
<rect x="1043" y="227" width="1" height="7" fill="#000"/>
<rect x="1041" y="230" width="5" height="3" fill="#000"/><rect x="1042" y="231" width="3" height="1" fill="#fff"/>
<rect x="1051" y="217" width="1" height="25" fill="#000"/>
<rect x="1049" y="229" width="5" height="4" fill="#000"/>
<rect x="1059" y="210" width="1" height="45" fill="#000"/>
<rect x="1057" y="211" width="5" height="21" fill="#000"/><rect x="1058" y="212" width="3" height="19" fill="#fff"/>
<rect x="1067" y="205" width="1" height="34" fill="#000"/>
<rect x="1065" y="211" width="5" height="24" fill="#000"/>
<rect x="1075" y="209" width="1" height="39" fill="#000"/>
<rect x="1073" y="216" width="5" height="18" fill="#000"/><rect x="1074" y="217" width="3" height="16" fill="#fff"/>
<rect x="1083" y="207" width="1" height="32" fill="#000"/>
<rect x="1081" y="216" width="5" height="9" fill="#000"/>
<rect x="1091" y="223" width="1" height="4" fill="#000"/>
<rect x="1089" y="224" width="5" height="2" fill="#000"/>
<rect x="1099" y="205" width="1" height="35" fill="#000"/>
<rect x="1097" y="225" width="5" height="8" fill="#000"/>
<rect x="1107" y="221" width="1" height="33" fill="#000"/>
<rect x="1105" y="232" width="5" height="7" fill="#000"/>
<rect x="1115" y="230" width="1" height="22" fill="#000"/>
<rect x="1113" y="238" width="5" height="4" fill="#000"/>
<rect x="1123" y="225" width="1" height="44" fill="#000"/>
<rect x="1121" y="234" width="5" height="8" fill="#000"/><rect x="1122" y="235" width="3" height="6" fill="#fff"/>
<rect x="1131" y="211" width="1" height="25" fill="#000"/>
<rect x="1129" y="215" width="5" height="19" fill="#000"/><rect x="1130" y="216" width="3" height="17" fill="#fff"/>
<rect x="1139" y="211" width="1" height="7" fill="#000"/>
<rect x="1137" y="213" width="5" height="3" fill="#000"/><rect x="1138" y="214" width="3" height="1" fill="#fff"/>
<rect x="1147" y="208" width="1" height="24" fill="#000"/>
<rect x="1145" y="210" width="5" height="3" fill="#000"/><rect x="1146" y="211" width="3" height="1" fill="#fff"/>
<rect x="1155" y="185" width="1" height="26" fill="#000"/>
<rect x="1153" y="187" width="5" height="23" fill="#000"/><rect x="1154" y="188" width="3" height="21" fill="#fff"/>
<rect x="1163" y="170" width="1" height="22" fill="#000"/>
<rect x="1161" y="182" width="5" height="5" fill="#000"/><rect x="1162" y="183" width="3" height="3" fill="#fff"/>
<rect x="1171" y="172" width="1" height="20" fill="#000"/>
<rect x="1169" y="182" width="5" height="7" fill="#000"/>
<rect x="1179" y="171" width="1" height="29" fill="#000"/>
<rect x="1177" y="176" width="5" height="13" fill="#000"/><rect x="1178" y="177" width="3" height="11" fill="#fff"/>
<rect x="1187" y="168" width="1" height="7" fill="#000"/>
<rect x="1185" y="169" width="5" height="5" fill="#000"/><rect x="1186" y="170" width="3" height="3" fill="#fff"/>
<rect x="1195" y="152" width="1" height="19" fill="#000"/>
<rect x="1193" y="155" width="5" height="15" fill="#000"/><rect x="1194" y="156" width="3" height="13" fill="#fff"/>
<rect x="1203" y="142" width="1" height="28" fill="#000"/>
<rect x="1201" y="154" width="5" height="11" fill="#000"/>
<rect x="1211" y="158" width="1" height="25" fill="#000"/>
<rect x="1209" y="164" width="5" height="7" fill="#000"/>
<rect x="1219" y="131" width="1" height="48" fill="#000"/>
<rect x="1217" y="138" width="5" height="33" fill="#000"/><rect x="1218" y="139" width="3" height="31" fill="#fff"/>
<rect x="1227" y="114" width="1" height="29" fill="#000"/>
<rect x="1225" y="122" width="5" height="16" fill="#000"/><rect x="1226" y="123" width="3" height="14" fill="#fff"/>
<rect x="1235" y="116" width="1" height="9" fill="#000"/>
<rect x="1233" y="118" width="5" height="6" fill="#000"/><rect x="1234" y="119" width="3" height="4" fill="#fff"/>
<rect x="1243" y="98" width="1" height="35" fill="#000"/>
<rect x="1241" y="105" width="5" height="13" fill="#000"/><rect x="1242" y="106" width="3" height="11" fill="#fff"/>
<rect x="1251" y="86" width="1" height="23" fill="#000"/>
<rect x="1249" y="88" width="5" height="16" fill="#000"/><rect x="1250" y="89" width="3" height="14" fill="#fff"/>
<rect x="1259" y="48" width="1" height="52" fill="#000"/>
<rect x="1257" y="78" width="5" height="10" fill="#000"/><rect x="1258" y="79" width="3" height="8" fill="#fff"/>
<rect x="1267" y="66" width="1" height="61" fill="#000"/>
<rect x="1265" y="79" width="5" height="47" fill="#000"/>
<rect x="1275" y="119" width="1" height="45" fill="#000"/>
<rect x="1273" y="125" width="5" height="16" fill="#000"/>
<rect x="1283" y="133" width="1" height="16" fill="#000"/>
<rect x="1281" y="135" width="5" height="14" fill="#000"/><rect x="1282" y="136" width="3" height="12" fill="#fff"/>
<rect x="1291" y="129" width="1" height="29" fill="#000"/>
<rect x="1289" y="134" width="5" height="16" fill="#000"/>
<rect x="1299" y="133" width="1" height="40" fill="#000"/>
<rect x="1297" y="145" width="5" height="4" fill="#000"/><rect x="1298" y="146" width="3" height="2" fill="#fff"/>
<rect x="1307" y="124" width="1" height="28" fill="#000"/>
<rect x="1305" y="142" width="5" height="10" fill="#000"/>
<rect x="1315" y="120" width="1" height="45" fill="#000"/>
<rect x="1313" y="151" width="5" height="11" fill="#000"/>
<rect x="1323" y="157" width="1" height="33" fill="#000"/>
<rect x="1321" y="161" width="5" height="18" fill="#000"/>
<rect x="1331" y="170" width="1" height="11" fill="#000"/>
<rect x="1329" y="175" width="5" height="5" fill="#000"/><rect x="1330" y="176" width="3" height="3" fill="#fff"/>
<rect x="1339" y="172" width="1" height="20" fill="#000"/>
<rect x="1337" y="175" width="5" height="10" fill="#000"/>
<rect x="1347" y="151" width="1" height="41" fill="#000"/>
<rect x="1345" y="162" width="5" height="23" fill="#000"/><rect x="1346" y="163" width="3" height="21" fill="#fff"/>
<rect x="1355" y="148" width="1" height="30" fill="#000"/>
<rect x="1353" y="148" width="5" height="16" fill="#000"/><rect x="1354" y="149" width="3" height="14" fill="#fff"/>
<rect x="1363" y="128" width="1" height="26" fill="#000"/>
<rect x="1361" y="130" width="5" height="20" fill="#000"/><rect x="1362" y="131" width="3" height="18" fill="#fff"/>
<rect x="1371" y="124" width="1" height="48" fill="#000"/>
<rect x="1369" y="130" width="5" height="22" fill="#000"/>
<rect x="1379" y="148" width="1" height="4" fill="#000"/>
<rect x="1377" y="149" width="5" height="3" fill="#000"/><rect x="1378" y="150" width="3" height="1" fill="#fff"/>
<rect x="1387" y="148" width="1" height="35" fill="#000"/>
<rect x="1385" y="149" width="5" height="11" fill="#000"/>
<rect x="1395" y="157" width="1" height="33" fill="#000"/>
<rect x="1393" y="158" width="5" height="1" fill="#000"/>
<rect x="1403" y="134" width="1" height="42" fill="#000"/>
<rect x="1401" y="134" width="5" height="25" fill="#000"/><rect x="1402" y="135" width="3" height="23" fill="#fff"/>
<rect x="1411" y="125" width="1" height="36" fill="#000"/>
<rect x="1409" y="137" width="5" height="14" fill="#000"/>
</g>
<line x1="1254.0" y1="60.0" x2="1323.9" y2="186.8" stroke="#ff0000" stroke-width="3.3" shape-rendering="crispEdges"/>
<polygon fill="#ff0000" shape-rendering="crispEdges" points="1329.0,196.0 1318.9,189.6 1329.0,184.0"/>
<line x1="1329.0" y1="196.0" x2="1359.4" y2="138.5" stroke="#ff0000" stroke-width="3.3" shape-rendering="crispEdges"/>
<polygon fill="#ff0000" shape-rendering="crispEdges" points="1364.3,129.2 1364.5,141.2 1354.3,135.8"/>
<line x1="1364.3" y1="129.2" x2="1387.9" y2="175.9" stroke="#ff0000" stroke-width="3.3" shape-rendering="crispEdges"/>
<polygon fill="#ff0000" shape-rendering="crispEdges" points="1392.6,185.3 1382.7,178.5 1393.0,173.3"/>
<line x1="1392.6" y1="185.3" x2="1408.2" y2="135.4" stroke="#ff0000" stroke-width="3.3" shape-rendering="crispEdges"/>
<polygon fill="#ff0000" shape-rendering="crispEdges" points="1411.3,125.4 1413.7,137.2 1402.6,133.7"/>
<line x1="1411.3" y1="125.4" x2="1416.5" y2="146.8" stroke="#ff0000" stroke-width="3.3" shape-rendering="crispEdges"/>
<polygon fill="#ff0000" shape-rendering="crispEdges" points="1419.0,157.0 1410.9,148.2 1422.1,145.4"/>
<rect x="1259" y="141" width="187" height="7" fill="#00ff00"/>
<rect x="1188.5" y="38.5" width="61.0" height="18.0" fill="#fff" stroke="#ff0000" stroke-width="1"/>
<text x="1190.6" y="53.7" font-size="16.3" fill="#ff0000" textLength="57.5" lengthAdjust="spacingAndGlyphs">1.42380</text>
<path d="M1250 47.5H1259.5V56" stroke="#ff0000" fill="none" stroke-width="1"/>
<rect x="1252.5" y="189.5" width="61.0" height="18.0" fill="#fff" stroke="#ff0000" stroke-width="1"/>
<text x="1254.6" y="204.7" font-size="16.3" fill="#ff0000" textLength="57.5" lengthAdjust="spacingAndGlyphs">1.37787</text>
<path d="M1314 198.5H1323.5V190" stroke="#ff0000" fill="none" stroke-width="1"/>
<rect x="1044" y="145" width="10" height="1" fill="#ff0000"/>
<rect x="1054.5" y="133.5" width="73.0" height="24.0" fill="#fff" stroke="#ff0000" stroke-width="1"/>
<text x="1055.2" y="154.1" font-size="23.4" fill="#ff0000" textLength="71.4" lengthAdjust="spacingAndGlyphs">1.39399</text>
<text x="1461.6" y="167.7" font-size="19.4" letter-spacing="2.4" fill="#00ff00" style="font-family:'Liberation Serif','Noto Serif CJK SC',serif;font-weight:200">多空转折点</text>
<polygon points="1422,22 1432.5,22 1427.2,27.2" fill="#c0c0c0"/>
<polygon points="-1,32.5 2,28 5,32.5" fill="#000"/>
<text x="9.8" y="32.9" class="dt" textLength="67.0" lengthAdjust="spacingAndGlyphs" >GBPUSD-,Daily</text>
<text x="82.6" y="32.9" class="dt" textLength="142.2" lengthAdjust="spacingAndGlyphs" >1.39737 1.40004 1.38965 1.39270</text>
<g shape-rendering="crispEdges">
<rect x="3" y="607" width="1" height="63" fill="#c0c0c0"/>
<rect x="11" y="614" width="1" height="56" fill="#c0c0c0"/>
<rect x="19" y="615" width="1" height="55" fill="#c0c0c0"/>
<rect x="27" y="613" width="1" height="57" fill="#c0c0c0"/>
<rect x="35" y="613" width="1" height="57" fill="#c0c0c0"/>
<rect x="43" y="606" width="1" height="64" fill="#c0c0c0"/>
<rect x="51" y="599" width="1" height="71" fill="#c0c0c0"/>
<rect x="59" y="594" width="1" height="76" fill="#c0c0c0"/>
<rect x="67" y="590" width="1" height="80" fill="#c0c0c0"/>
<rect x="75" y="590" width="1" height="80" fill="#c0c0c0"/>
<rect x="83" y="596" width="1" height="74" fill="#c0c0c0"/>
<rect x="91" y="599" width="1" height="71" fill="#c0c0c0"/>
<rect x="99" y="606" width="1" height="64" fill="#c0c0c0"/>
<rect x="107" y="617" width="1" height="53" fill="#c0c0c0"/>
<rect x="115" y="638" width="1" height="32" fill="#c0c0c0"/>
<rect x="123" y="653" width="1" height="17" fill="#c0c0c0"/>
<rect x="131" y="670" width="1" height="4" fill="#c0c0c0"/>
<rect x="139" y="670" width="1" height="23" fill="#c0c0c0"/>
<rect x="147" y="670" width="1" height="37" fill="#c0c0c0"/>
<rect x="155" y="670" width="1" height="45" fill="#c0c0c0"/>
<rect x="163" y="670" width="1" height="48" fill="#c0c0c0"/>
<rect x="171" y="670" width="1" height="46" fill="#c0c0c0"/>
<rect x="179" y="670" width="1" height="42" fill="#c0c0c0"/>
<rect x="187" y="670" width="1" height="42" fill="#c0c0c0"/>
<rect x="195" y="670" width="1" height="41" fill="#c0c0c0"/>
<rect x="203" y="670" width="1" height="47" fill="#c0c0c0"/>
<rect x="211" y="670" width="1" height="55" fill="#c0c0c0"/>
<rect x="219" y="670" width="1" height="62" fill="#c0c0c0"/>
<rect x="227" y="670" width="1" height="65" fill="#c0c0c0"/>
<rect x="235" y="670" width="1" height="68" fill="#c0c0c0"/>
<rect x="243" y="670" width="1" height="67" fill="#c0c0c0"/>
<rect x="251" y="670" width="1" height="60" fill="#c0c0c0"/>
<rect x="259" y="670" width="1" height="53" fill="#c0c0c0"/>
<rect x="267" y="670" width="1" height="45" fill="#c0c0c0"/>
<rect x="275" y="670" width="1" height="40" fill="#c0c0c0"/>
<rect x="283" y="670" width="1" height="32" fill="#c0c0c0"/>
<rect x="291" y="670" width="1" height="26" fill="#c0c0c0"/>
<rect x="299" y="670" width="1" height="17" fill="#c0c0c0"/>
<rect x="307" y="670" width="1" height="17" fill="#c0c0c0"/>
<rect x="315" y="670" width="1" height="14" fill="#c0c0c0"/>
<rect x="323" y="670" width="1" height="10" fill="#c0c0c0"/>
<rect x="331" y="670" width="1" height="2" fill="#c0c0c0"/>
<rect x="339" y="666" width="1" height="4" fill="#c0c0c0"/>
<rect x="347" y="659" width="1" height="11" fill="#c0c0c0"/>
<rect x="355" y="662" width="1" height="8" fill="#c0c0c0"/>
<rect x="363" y="659" width="1" height="11" fill="#c0c0c0"/>
<rect x="371" y="663" width="1" height="7" fill="#c0c0c0"/>
<rect x="379" y="665" width="1" height="5" fill="#c0c0c0"/>
<rect x="387" y="667" width="1" height="3" fill="#c0c0c0"/>
<rect x="395" y="667" width="1" height="3" fill="#c0c0c0"/>
<rect x="403" y="667" width="1" height="3" fill="#c0c0c0"/>
<rect x="411" y="657" width="1" height="13" fill="#c0c0c0"/>
<rect x="419" y="652" width="1" height="18" fill="#c0c0c0"/>
<rect x="427" y="650" width="1" height="20" fill="#c0c0c0"/>
<rect x="435" y="649" width="1" height="21" fill="#c0c0c0"/>
<rect x="443" y="650" width="1" height="20" fill="#c0c0c0"/>
<rect x="451" y="650" width="1" height="20" fill="#c0c0c0"/>
<rect x="459" y="654" width="1" height="16" fill="#c0c0c0"/>
<rect x="467" y="659" width="1" height="11" fill="#c0c0c0"/>
<rect x="475" y="662" width="1" height="8" fill="#c0c0c0"/>
<rect x="483" y="666" width="1" height="4" fill="#c0c0c0"/>
<rect x="499" y="661" width="1" height="9" fill="#c0c0c0"/>
<rect x="507" y="663" width="1" height="7" fill="#c0c0c0"/>
<rect x="515" y="655" width="1" height="15" fill="#c0c0c0"/>
<rect x="523" y="648" width="1" height="22" fill="#c0c0c0"/>
<rect x="531" y="641" width="1" height="29" fill="#c0c0c0"/>
<rect x="539" y="636" width="1" height="34" fill="#c0c0c0"/>
<rect x="547" y="628" width="1" height="42" fill="#c0c0c0"/>
<rect x="555" y="624" width="1" height="46" fill="#c0c0c0"/>
<rect x="563" y="627" width="1" height="43" fill="#c0c0c0"/>
<rect x="571" y="627" width="1" height="43" fill="#c0c0c0"/>
<rect x="579" y="625" width="1" height="45" fill="#c0c0c0"/>
<rect x="587" y="624" width="1" height="46" fill="#c0c0c0"/>
<rect x="595" y="621" width="1" height="49" fill="#c0c0c0"/>
<rect x="603" y="620" width="1" height="50" fill="#c0c0c0"/>
<rect x="611" y="620" width="1" height="50" fill="#c0c0c0"/>
<rect x="619" y="619" width="1" height="51" fill="#c0c0c0"/>
<rect x="627" y="617" width="1" height="53" fill="#c0c0c0"/>
<rect x="635" y="615" width="1" height="55" fill="#c0c0c0"/>
<rect x="643" y="611" width="1" height="59" fill="#c0c0c0"/>
<rect x="651" y="608" width="1" height="62" fill="#c0c0c0"/>
<rect x="659" y="608" width="1" height="62" fill="#c0c0c0"/>
<rect x="667" y="612" width="1" height="58" fill="#c0c0c0"/>
<rect x="675" y="614" width="1" height="56" fill="#c0c0c0"/>
<rect x="683" y="616" width="1" height="54" fill="#c0c0c0"/>
<rect x="691" y="613" width="1" height="57" fill="#c0c0c0"/>
<rect x="699" y="614" width="1" height="56" fill="#c0c0c0"/>
<rect x="707" y="612" width="1" height="58" fill="#c0c0c0"/>
<rect x="715" y="610" width="1" height="60" fill="#c0c0c0"/>
<rect x="723" y="612" width="1" height="58" fill="#c0c0c0"/>
<rect x="731" y="616" width="1" height="54" fill="#c0c0c0"/>
<rect x="739" y="620" width="1" height="50" fill="#c0c0c0"/>
<rect x="747" y="624" width="1" height="46" fill="#c0c0c0"/>
<rect x="755" y="631" width="1" height="39" fill="#c0c0c0"/>
<rect x="763" y="642" width="1" height="28" fill="#c0c0c0"/>
<rect x="771" y="645" width="1" height="25" fill="#c0c0c0"/>
<rect x="779" y="648" width="1" height="22" fill="#c0c0c0"/>
<rect x="787" y="642" width="1" height="28" fill="#c0c0c0"/>
<rect x="795" y="636" width="1" height="34" fill="#c0c0c0"/>
<rect x="803" y="627" width="1" height="43" fill="#c0c0c0"/>
<rect x="811" y="624" width="1" height="46" fill="#c0c0c0"/>
<rect x="819" y="628" width="1" height="42" fill="#c0c0c0"/>
<rect x="827" y="630" width="1" height="40" fill="#c0c0c0"/>
<rect x="835" y="634" width="1" height="36" fill="#c0c0c0"/>
<rect x="843" y="632" width="1" height="38" fill="#c0c0c0"/>
<rect x="851" y="627" width="1" height="43" fill="#c0c0c0"/>
<rect x="859" y="623" width="1" height="47" fill="#c0c0c0"/>
<rect x="867" y="628" width="1" height="42" fill="#c0c0c0"/>
<rect x="875" y="628" width="1" height="42" fill="#c0c0c0"/>
<rect x="883" y="622" width="1" height="48" fill="#c0c0c0"/>
<rect x="891" y="616" width="1" height="54" fill="#c0c0c0"/>
<rect x="899" y="611" width="1" height="59" fill="#c0c0c0"/>
<rect x="907" y="614" width="1" height="56" fill="#c0c0c0"/>
<rect x="915" y="613" width="1" height="57" fill="#c0c0c0"/>
<rect x="923" y="614" width="1" height="56" fill="#c0c0c0"/>
<rect x="931" y="618" width="1" height="52" fill="#c0c0c0"/>
<rect x="939" y="622" width="1" height="48" fill="#c0c0c0"/>
<rect x="947" y="629" width="1" height="41" fill="#c0c0c0"/>
<rect x="955" y="634" width="1" height="36" fill="#c0c0c0"/>
<rect x="963" y="630" width="1" height="40" fill="#c0c0c0"/>
<rect x="971" y="629" width="1" height="41" fill="#c0c0c0"/>
<rect x="979" y="626" width="1" height="44" fill="#c0c0c0"/>
<rect x="987" y="631" width="1" height="39" fill="#c0c0c0"/>
<rect x="995" y="635" width="1" height="35" fill="#c0c0c0"/>
<rect x="1003" y="638" width="1" height="32" fill="#c0c0c0"/>
<rect x="1011" y="637" width="1" height="33" fill="#c0c0c0"/>
<rect x="1019" y="636" width="1" height="34" fill="#c0c0c0"/>
<rect x="1027" y="631" width="1" height="39" fill="#c0c0c0"/>
<rect x="1035" y="631" width="1" height="39" fill="#c0c0c0"/>
<rect x="1043" y="631" width="1" height="39" fill="#c0c0c0"/>
<rect x="1051" y="632" width="1" height="38" fill="#c0c0c0"/>
<rect x="1059" y="629" width="1" height="41" fill="#c0c0c0"/>
<rect x="1067" y="633" width="1" height="37" fill="#c0c0c0"/>
<rect x="1075" y="631" width="1" height="39" fill="#c0c0c0"/>
<rect x="1083" y="632" width="1" height="38" fill="#c0c0c0"/>
<rect x="1091" y="634" width="1" height="36" fill="#c0c0c0"/>
<rect x="1099" y="637" width="1" height="33" fill="#c0c0c0"/>
<rect x="1107" y="641" width="1" height="29" fill="#c0c0c0"/>
<rect x="1115" y="644" width="1" height="26" fill="#c0c0c0"/>
<rect x="1123" y="646" width="1" height="24" fill="#c0c0c0"/>
<rect x="1131" y="645" width="1" height="25" fill="#c0c0c0"/>
<rect x="1139" y="643" width="1" height="27" fill="#c0c0c0"/>
<rect x="1147" y="642" width="1" height="28" fill="#c0c0c0"/>
<rect x="1155" y="637" width="1" height="33" fill="#c0c0c0"/>
<rect x="1163" y="633" width="1" height="37" fill="#c0c0c0"/>
<rect x="1171" y="631" width="1" height="39" fill="#c0c0c0"/>
<rect x="1179" y="628" width="1" height="42" fill="#c0c0c0"/>
<rect x="1187" y="625" width="1" height="45" fill="#c0c0c0"/>
<rect x="1195" y="620" width="1" height="50" fill="#c0c0c0"/>
<rect x="1203" y="619" width="1" height="51" fill="#c0c0c0"/>
<rect x="1211" y="619" width="1" height="51" fill="#c0c0c0"/>
<rect x="1219" y="614" width="1" height="56" fill="#c0c0c0"/>
<rect x="1227" y="608" width="1" height="62" fill="#c0c0c0"/>
<rect x="1235" y="604" width="1" height="66" fill="#c0c0c0"/>
<rect x="1243" y="598" width="1" height="72" fill="#c0c0c0"/>
<rect x="1251" y="592" width="1" height="78" fill="#c0c0c0"/>
<rect x="1259" y="586" width="1" height="84" fill="#c0c0c0"/>
<rect x="1267" y="591" width="1" height="79" fill="#c0c0c0"/>
<rect x="1275" y="600" width="1" height="70" fill="#c0c0c0"/>
<rect x="1283" y="605" width="1" height="65" fill="#c0c0c0"/>
<rect x="1291" y="612" width="1" height="58" fill="#c0c0c0"/>
<rect x="1299" y="618" width="1" height="52" fill="#c0c0c0"/>
<rect x="1307" y="624" width="1" height="46" fill="#c0c0c0"/>
<rect x="1315" y="631" width="1" height="39" fill="#c0c0c0"/>
<rect x="1323" y="641" width="1" height="29" fill="#c0c0c0"/>
<rect x="1331" y="648" width="1" height="22" fill="#c0c0c0"/>
<rect x="1339" y="655" width="1" height="15" fill="#c0c0c0"/>
<rect x="1347" y="657" width="1" height="13" fill="#c0c0c0"/>
<rect x="1355" y="657" width="1" height="13" fill="#c0c0c0"/>
<rect x="1363" y="653" width="1" height="17" fill="#c0c0c0"/>
<rect x="1371" y="654" width="1" height="16" fill="#c0c0c0"/>
<rect x="1379" y="655" width="1" height="15" fill="#c0c0c0"/>
<rect x="1387" y="657" width="1" height="13" fill="#c0c0c0"/>
<rect x="1395" y="659" width="1" height="11" fill="#c0c0c0"/>
<rect x="1403" y="656" width="1" height="14" fill="#c0c0c0"/>
<rect x="1411" y="657" width="1" height="13" fill="#c0c0c0"/>
</g>
<polyline fill="none" stroke="#ff0000" stroke-width="1" shape-rendering="crispEdges" stroke-dasharray="3,3" points="0.0,595.1 8.0,597.6 20.0,601.2 32.1,604.2 44.1,607.0 60.1,607.0 68.1,605.6 76.2,603.6 86.2,600.6 98.2,599.0 108.2,600.6 116.2,603.6 124.2,609.6 132.3,619.6 140.3,631.6 148.3,643.6 156.3,655.7 164.3,670.7 172.3,683.7 180.4,694.7 188.4,701.8 196.4,708.2 204.4,712.2 212.4,715.8 220.4,718.8 228.5,721.2 236.5,722.8 244.5,725.2 252.5,727.4 260.5,728.4 268.5,728.4 276.6,727.4 284.6,724.8 292.6,720.8 300.6,715.8 308.6,710.8 316.6,704.8 324.6,698.4 332.7,692.7 340.7,686.7 348.0,681.7 356.0,676.7 363.0,672.1 370.1,670.7 380.1,667.1 390.1,665.7 400.1,664.3 408.1,663.1 420.2,661.3 430.2,660.3 438.2,658.3 448.2,656.7 456.2,654.7 466.3,653.7 476.3,652.7 484.3,653.3 490.3,655.7 498.3,657.7 508.3,659.1 520.4,659.9 530.4,658.3 538.4,655.7 546.4,652.3 555.4,646.2 562.4,643.0 570.5,639.6 578.5,635.0 586.5,631.0 594.5,628.6 602.5,626.2 610.5,623.8 620.6,622.6 628.6,621.6 638.6,620.2 646.6,618.0 656.6,616.2 668.7,614.6 676.7,613.6 680.0,613.2 692.0,613.2 698.0,612.0 716.1,612.0 730.1,612.6 738.1,614.0 750.1,615.0 760.2,618.6 768.2,621.2 776.2,625.6 784.2,629.6 792.2,632.2 800.2,634.2 812.3,635.0 824.3,635.8 834.3,634.6 842.3,633.0 850.3,630.6 858.4,629.6 866.4,628.0 880.4,627.6 890.4,626.2 898.4,624.0 908.5,621.2 918.5,619.6 928.5,618.2 940.5,618.0 950.5,618.2 960.6,620.2 970.6,622.6 980.6,625.0 990.6,626.6 1000.6,629.0 1010.7,631.8 1025.9,633.0 1043.5,633.0 1048.6,633.9 1054.4,633.9 1059.5,633.0 1067.2,633.0 1072.3,632.0 1083.0,632.0 1104.0,632.0 1110.1,633.0 1116.1,635.0 1126.1,637.0 1136.1,638.6 1148.1,640.6 1160.2,641.0 1168.2,640.2 1176.2,639.6 1184.2,637.0 1194.2,635.0 1202.2,631.6 1210.3,627.6 1220.3,625.0 1228.3,621.6 1236.3,618.2 1244.3,614.6 1252.3,610.6 1260.4,606.2 1266.4,603.0 1276.4,601.2 1284.4,600.2 1294.4,600.0 1302.4,601.2 1310.5,604.6 1318.5,608.6 1326.5,614.6 1334.5,620.6 1342.5,626.6 1350.5,633.6 1358.6,639.6 1366.6,644.2 1374.6,648.3 1382.6,651.1 1390.6,654.3 1398.6,655.3 1410.7,655.9"/>
<text x="-0.8" y="589.0" class="dt" textLength="147.4" lengthAdjust="spacingAndGlyphs" >MACD(12,26,9) 0.001737 0.001863</text>
<line x1="-4" y1="784.5" x2="1682" y2="784.5" stroke="#c0c0c0" stroke-dasharray="3,3" shape-rendering="crispEdges"/>
<line x1="-4" y1="835.5" x2="1682" y2="835.5" stroke="#c0c0c0" stroke-dasharray="3,3" shape-rendering="crispEdges"/>
<line x1="-4" y1="896.5" x2="1682" y2="896.5" stroke="#c0c0c0" stroke-dasharray="3,3" shape-rendering="crispEdges"/>
<polyline fill="none" stroke="#1e90ff" stroke-width="1" shape-rendering="crispEdges"  points="3.5,827.1 11.5,830.1 19.5,821.0 27.5,814.0 35.5,817.0 43.5,805.0 51.5,804.0 59.5,804.0 67.5,800.6 75.5,810.0 83.5,823.0 91.5,820.0 99.5,827.1 107.5,838.1 115.5,856.7 123.5,853.1 131.5,865.7 139.5,867.1 147.5,864.7 155.5,859.7 163.5,855.1 171.5,845.1 179.5,843.7 187.5,848.7 195.5,847.7 203.5,858.1 211.5,864.1 219.5,866.1 227.5,859.7 235.5,862.1 243.5,857.1 251.5,842.1 259.5,843.1 267.5,836.7 275.5,840.1 283.5,834.1 291.5,835.1 299.5,826.7 307.5,841.1 315.5,836.7 323.5,833.7 331.5,822.6 339.5,824.0 347.5,819.6 355.5,837.7 363.5,829.1 371.5,841.1 379.5,838.1 387.5,839.1 395.5,836.1 403.5,834.7 411.5,817.0 419.5,824.0 427.5,828.7 435.5,826.7 443.5,831.7 451.5,830.1 459.5,835.7 467.5,842.7 475.5,838.7 483.5,842.7 491.5,844.1 499.5,820.0 507.5,837.7 515.5,822.6 523.5,820.6 531.5,819.0 539.5,821.0 547.5,813.0 555.5,818.0 563.5,829.7 571.5,824.6 579.5,821.0 587.5,821.0 595.5,818.0 603.5,819.0 611.5,819.0 619.5,815.6 627.5,813.6 635.5,810.6 643.5,807.6 651.5,805.6 659.5,811.6 667.5,821.0 675.5,818.0 683.5,816.6 691.5,807.0 699.5,817.6 707.5,809.0 715.5,810.0 723.5,815.6 731.5,826.1 739.5,825.0 747.5,825.0 755.5,835.7 763.5,846.7 771.5,833.7 779.5,831.7 787.5,817.6 795.5,811.6 803.5,805.6 811.5,815.6 819.5,830.7 827.5,826.1 835.5,831.7 843.5,821.0 851.5,817.6 859.5,815.6 867.5,829.7 875.5,825.7 883.5,815.0 891.5,812.0 899.5,810.6 907.5,824.6 915.5,820.0 923.5,821.0 931.5,827.7 939.5,829.1 947.5,833.7 955.5,833.7 963.5,817.6 971.5,821.0 979.5,818.0 987.5,831.7 995.5,832.7 1003.5,830.7 1011.5,823.6 1019.5,821.6 1027.5,815.0 1035.5,823.0 1043.5,821.6 1051.5,824.0 1059.5,816.0 1067.5,827.7 1075.5,820.6 1083.5,824.6 1091.5,826.1 1099.5,829.1 1107.5,831.7 1115.5,833.7 1123.5,829.7 1131.5,821.6 1139.5,820.0 1147.5,819.0 1155.5,810.0 1163.5,808.0 1171.5,811.6 1179.5,806.6 1187.5,804.6 1195.5,800.0 1203.5,807.0 1211.5,811.6 1219.5,799.6 1227.5,796.0 1235.5,794.6 1243.5,790.6 1251.5,786.6 1259.5,785.0 1267.5,815.6 1275.5,826.7 1283.5,822.6 1291.5,829.7 1299.5,826.7 1307.5,831.7 1315.5,836.7 1323.5,844.1 1331.5,842.7 1339.5,846.7 1347.5,835.7 1355.5,829.1 1363.5,821.6 1371.5,831.7 1379.5,830.7 1387.5,835.7 1395.5,835.7 1403.5,824.6 1411.5,831.7"/>
<text x="-0.8" y="761.0" class="dt" textLength="67.4" lengthAdjust="spacingAndGlyphs" >RSI(14) 52.1279</text>
<g shape-rendering="crispEdges" fill="#000">
<rect x="0" y="21" width="1683" height="1"/>
<rect x="1682" y="21" width="1" height="902"/>
<rect x="0" y="574" width="1683" height="1"/>
<rect x="0" y="576" width="1683" height="1"/>
<rect x="0" y="746" width="1683" height="1"/>
<rect x="0" y="748" width="1683" height="1"/>
<rect x="0" y="922" width="1684" height="1"/>
<rect x="1683" y="43" width="2" height="1"/>
<rect x="1683" y="76" width="2" height="1"/>
<rect x="1683" y="109" width="2" height="1"/>
<rect x="1683" y="142" width="2" height="1"/>
<rect x="1683" y="175" width="2" height="1"/>
<rect x="1683" y="208" width="2" height="1"/>
<rect x="1683" y="241" width="2" height="1"/>
<rect x="1683" y="274" width="2" height="1"/>
<rect x="1683" y="307" width="2" height="1"/>
<rect x="1683" y="340" width="2" height="1"/>
<rect x="1683" y="373" width="2" height="1"/>
<rect x="1683" y="406" width="2" height="1"/>
<rect x="1683" y="439" width="2" height="1"/>
<rect x="1683" y="472" width="2" height="1"/>
<rect x="1683" y="505" width="2" height="1"/>
<rect x="1683" y="538" width="2" height="1"/>
<rect x="1683" y="571" width="2" height="1"/>
<rect x="1683" y="578" width="2" height="1"/>
<rect x="1683" y="669" width="2" height="1"/>
<rect x="1683" y="745" width="2" height="1"/>
<rect x="1683" y="750" width="2" height="1"/>
<rect x="1682" y="784" width="1" height="1" fill="#fff"/>
<rect x="1682" y="835" width="1" height="1" fill="#fff"/>
<rect x="1682" y="896" width="1" height="1" fill="#fff"/>
<rect x="59" y="923" width="1" height="3"/>
<rect x="123" y="923" width="1" height="3"/>
<rect x="187" y="923" width="1" height="3"/>
<rect x="251" y="923" width="1" height="3"/>
<rect x="315" y="923" width="1" height="3"/>
<rect x="379" y="923" width="1" height="3"/>
<rect x="443" y="923" width="1" height="3"/>
<rect x="507" y="923" width="1" height="3"/>
<rect x="571" y="923" width="1" height="3"/>
<rect x="635" y="923" width="1" height="3"/>
<rect x="699" y="923" width="1" height="3"/>
<rect x="763" y="923" width="1" height="3"/>
<rect x="827" y="923" width="1" height="3"/>
<rect x="891" y="923" width="1" height="3"/>
<rect x="955" y="923" width="1" height="3"/>
<rect x="1019" y="923" width="1" height="3"/>
<rect x="1083" y="923" width="1" height="3"/>
<rect x="1147" y="923" width="1" height="3"/>
<rect x="1211" y="923" width="1" height="3"/>
<rect x="1275" y="923" width="1" height="3"/>
<rect x="1339" y="923" width="1" height="3"/>
<rect x="1403" y="923" width="1" height="3"/>
</g>
<text x="1687.9" y="46.9" class="ax" textLength="33.2" lengthAdjust="spacingAndGlyphs" >1.42520</text>
<text x="1687.9" y="79.9" class="ax" textLength="33.2" lengthAdjust="spacingAndGlyphs" >1.41500</text>
<text x="1687.9" y="178.9" class="ax" textLength="33.2" lengthAdjust="spacingAndGlyphs" >1.38500</text>
<text x="1687.9" y="211.9" class="ax" textLength="33.2" lengthAdjust="spacingAndGlyphs" >1.37480</text>
<text x="1687.9" y="244.9" class="ax" textLength="33.2" lengthAdjust="spacingAndGlyphs" >1.36490</text>
<text x="1687.9" y="277.9" class="ax" textLength="33.2" lengthAdjust="spacingAndGlyphs" >1.35470</text>
<text x="1687.9" y="310.9" class="ax" textLength="33.2" lengthAdjust="spacingAndGlyphs" >1.34480</text>
<text x="1687.9" y="343.9" class="ax" textLength="33.2" lengthAdjust="spacingAndGlyphs" >1.33460</text>
<text x="1687.9" y="376.9" class="ax" textLength="33.2" lengthAdjust="spacingAndGlyphs" >1.32470</text>
<text x="1687.9" y="409.9" class="ax" textLength="33.2" lengthAdjust="spacingAndGlyphs" >1.31450</text>
<text x="1687.9" y="442.9" class="ax" textLength="33.2" lengthAdjust="spacingAndGlyphs" >1.30460</text>
<text x="1687.9" y="475.9" class="ax" textLength="33.2" lengthAdjust="spacingAndGlyphs" >1.29440</text>
<text x="1687.9" y="508.9" class="ax" textLength="33.2" lengthAdjust="spacingAndGlyphs" >1.28450</text>
<text x="1687.9" y="541.9" class="ax" textLength="33.2" lengthAdjust="spacingAndGlyphs" >1.27430</text>
<text x="1687.9" y="574.9" class="ax" textLength="33.2" lengthAdjust="spacingAndGlyphs" >1.26440</text>
<text x="-5.8" y="935.0" class="dt" textLength="52.8" lengthAdjust="spacingAndGlyphs" >21 Aug 2020</text>
<text x="57.6" y="935.0" class="dt" textLength="52.8" lengthAdjust="spacingAndGlyphs" >31 Aug 2020</text>
<text x="121.6" y="935.0" class="dt" textLength="48.1" lengthAdjust="spacingAndGlyphs" >9 Sep 2020</text>
<text x="185.6" y="935.0" class="dt" textLength="53.3" lengthAdjust="spacingAndGlyphs" >18 Sep 2020</text>
<text x="249.6" y="935.0" class="dt" textLength="53.3" lengthAdjust="spacingAndGlyphs" >28 Sep 2020</text>
<text x="313.6" y="935.0" class="dt" textLength="46.0" lengthAdjust="spacingAndGlyphs" >7 Oct 2020</text>
<text x="377.6" y="935.0" class="dt" textLength="51.2" lengthAdjust="spacingAndGlyphs" >16 Oct 2020</text>
<text x="441.6" y="935.0" class="dt" textLength="51.2" lengthAdjust="spacingAndGlyphs" >26 Oct 2020</text>
<text x="505.6" y="935.0" class="dt" textLength="48.1" lengthAdjust="spacingAndGlyphs" >4 Nov 2020</text>
<text x="569.6" y="935.0" class="dt" textLength="53.3" lengthAdjust="spacingAndGlyphs" >13 Nov 2020</text>
<text x="633.6" y="935.0" class="dt" textLength="53.3" lengthAdjust="spacingAndGlyphs" >23 Nov 2020</text>
<text x="697.6" y="935.0" class="dt" textLength="48.1" lengthAdjust="spacingAndGlyphs" >2 Dec 2020</text>
<text x="761.6" y="935.0" class="dt" textLength="52.6" lengthAdjust="spacingAndGlyphs" >11 Dec 2020</text>
<text x="825.6" y="935.0" class="dt" textLength="53.3" lengthAdjust="spacingAndGlyphs" >21 Dec 2020</text>
<text x="889.6" y="935.0" class="dt" textLength="53.3" lengthAdjust="spacingAndGlyphs" >31 Dec 2020</text>
<text x="953.6" y="935.0" class="dt" textLength="51.1" lengthAdjust="spacingAndGlyphs" >11 Jan 2021</text>
<text x="1017.6" y="935.0" class="dt" textLength="51.8" lengthAdjust="spacingAndGlyphs" >20 Jan 2021</text>
<text x="1081.6" y="935.0" class="dt" textLength="51.8" lengthAdjust="spacingAndGlyphs" >29 Jan 2021</text>
<text x="1145.6" y="935.0" class="dt" textLength="47.6" lengthAdjust="spacingAndGlyphs" >8 Feb 2021</text>
<text x="1209.6" y="935.0" class="dt" textLength="52.8" lengthAdjust="spacingAndGlyphs" >17 Feb 2021</text>
<text x="1273.6" y="935.0" class="dt" textLength="52.8" lengthAdjust="spacingAndGlyphs" >26 Feb 2021</text>
<text x="1337.6" y="935.0" class="dt" textLength="47.6" lengthAdjust="spacingAndGlyphs" >8 Mar 2021</text>
<text x="1401.6" y="935.0" class="dt" textLength="52.8" lengthAdjust="spacingAndGlyphs" >17 Mar 2021</text>
<text x="1685.8" y="587.1" class="ax" textLength="37.9" lengthAdjust="spacingAndGlyphs" >0.012372</text>
<text x="1685.8" y="672.9" class="ax" textLength="17.7" lengthAdjust="spacingAndGlyphs" >0.00</text>
<text x="1685.9" y="743.1" class="ax" textLength="40.9" lengthAdjust="spacingAndGlyphs" >-0.010374</text>
<text x="1685.7" y="758.8" class="ax" textLength="15.2" lengthAdjust="spacingAndGlyphs" >100</text>
<text x="1685.3" y="788.0" class="ax" textLength="10.1" lengthAdjust="spacingAndGlyphs" >80</text>
<text x="1685.3" y="839.2" class="ax" textLength="10.1" lengthAdjust="spacingAndGlyphs" >50</text>
<text x="1685.2" y="900.1" class="ax" textLength="10.1" lengthAdjust="spacingAndGlyphs" >15</text>
<text x="1685.6" y="919.4" class="ax" textLength="5.1" lengthAdjust="spacingAndGlyphs" >0</text>
<rect x="1684" y="87" width="41" height="11" fill="#ff4500" shape-rendering="crispEdges"/>
<text x="1687.9" y="95.9" class="tag" textLength="33.2" lengthAdjust="spacingAndGlyphs" >1.40980</text>
<rect x="1684" y="106" width="41" height="11" fill="#ff0000" shape-rendering="crispEdges"/>
<text x="1687.9" y="114.9" class="tag" textLength="33.2" lengthAdjust="spacingAndGlyphs" >1.40403</text>
<rect x="1684" y="145" width="41" height="11" fill="#000000" shape-rendering="crispEdges"/>
<text x="1687.9" y="153.9" class="tag" textLength="33.2" lengthAdjust="spacingAndGlyphs" >1.39270</text>
<rect x="1684" y="139" width="41" height="11" fill="#32cd32" shape-rendering="crispEdges"/>
<text x="1687.9" y="147.9" class="tag" textLength="33.2" lengthAdjust="spacingAndGlyphs" >1.39399</text>
<rect x="1684" y="158" width="41" height="11" fill="#0000ff" shape-rendering="crispEdges"/>
<text x="1687.9" y="166.9" class="tag" textLength="33.2" lengthAdjust="spacingAndGlyphs" >1.38821</text>
<rect x="1684" y="184" width="41" height="11" fill="#0000ff" shape-rendering="crispEdges"/>
<text x="1687.9" y="192.9" class="tag" textLength="33.2" lengthAdjust="spacingAndGlyphs" >1.38030</text>
</svg>
<div id="panel">
<div style="left:0;top:0;width:219px;height:64px;background:#fff"></div>
<div style="left:50px;top:0;width:115px;height:25px;background:#fff"></div>
<div class="btn" style="left:0;top:0;width:50px;height:25px;padding-right:3px;letter-spacing:-0.2px;"><span style="display:inline-block;transform:scaleX(0.9)">SELL</span></div>
<div class="btn" style="left:165px;top:0;width:52px;height:25px;">BUY</div>
<div class="px" style="left:0;top:24px;width:107px;height:40px"></div>
<div class="px" style="left:109px;top:24px;width:108px;height:40px"></div>
<div style="left:2px;top:24px;width:44px;height:1px;background:#8c8cf0"></div>
<div style="left:169px;top:24px;width:44px;height:1px;background:#8c8cf0"></div>
<div style="left:52px;top:0;width:111px;height:22px;background:#fff;border:1px solid #a9a9a9"></div>
<div style="left:54px;top:1px;width:19px;height:20px;background:linear-gradient(#f4f4f4,#cfcfcf);border:1px solid #c8c8c8"></div>
<div style="left:142px;top:1px;width:19.5px;height:20px;background:linear-gradient(#f4f4f4,#cfcfcf);border:1px solid #c8c8c8"></div>
<div style="left:73px;top:1px;width:1px;height:20px;background:#b4b4b4"></div>
<div style="left:141px;top:1px;width:1px;height:20px;background:#b4b4b4"></div>
<div style="left:59.8px;top:9px;width:0;height:0;border-left:3px solid transparent;border-right:3px solid transparent;border-top:3.5px solid #4a5fc0"></div>
<div style="left:148.3px;top:8.6px;width:0;height:0;border-left:3px solid transparent;border-right:3px solid transparent;border-bottom:3.5px solid #4a5fc0"></div>
<div style="left:80px;top:1.5px;width:57.8px;height:18px;line-height:18px;text-align:right;font-size:12.3px;letter-spacing:-0.3px;color:#1a1008">1.00</div>
<div class="sm" style="left:18px;top:45px;color:#fff">1.39</div>
<div class="big" style="left:46px;top:26.5px;color:#fff">27</div>
<div class="sup" style="left:84.8px;top:29.2px;color:#fff">0</div>
<div class="sm" style="left:128px;top:45px;color:#fff">1.39</div>
<div class="big" style="left:157px;top:26.5px;color:#fff">29</div>
<div class="sup" style="left:196px;top:29.2px;color:#fff">7</div>
</div>
</body></html>
